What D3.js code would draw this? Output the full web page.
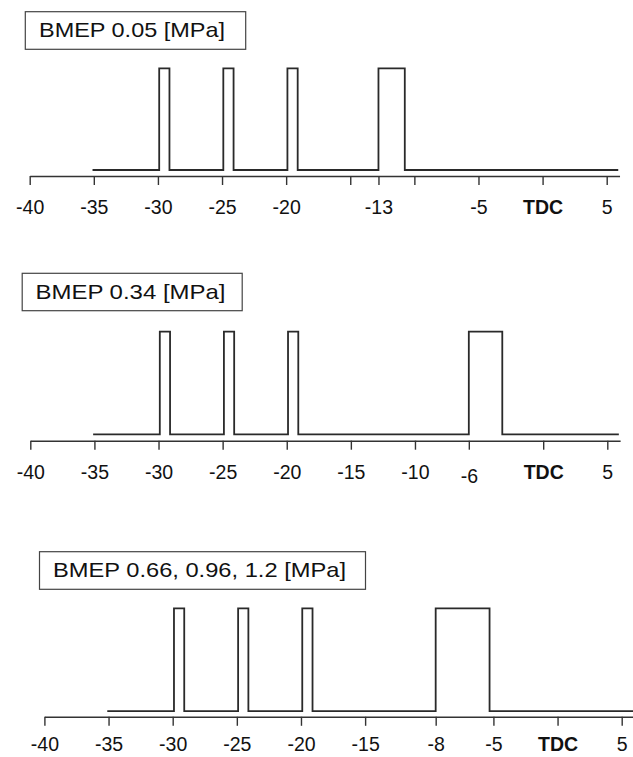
<!DOCTYPE html>
<html>
<head>
<meta charset="utf-8">
<script src="https://cdn.jsdelivr.net/npm/d3@7"></script>
<style>
  html, body { margin: 0; padding: 0; background: #fff; }
  svg { display: block; }
  .title { font-family: "Liberation Sans", Arial, sans-serif; font-size: 21px; fill: #111; }
  .axis text { font-family: "Liberation Sans", Arial, sans-serif; font-size: 21px; fill: #111; }
  .axis text.tdc { font-weight: bold; }
</style>
</head>
<body>
<script>
// Injection timing (crank angle, degrees relative to TDC) for three load ranges.

const panelTitles = ["BMEP 0.05 [MPa]", "BMEP 0.34 [MPa]", "BMEP 0.66, 0.96, 1.2 [MPa]"];

// Injection pulse opening / closing angles
const pulseStarts1 = [-29.9, -24.9, -19.9, -13];
const pulseEnds1   = [-29.1, -24.1, -19.1, -10.8];
const pulseStarts2 = [-29.9, -24.9, -19.9, -6];
const pulseEnds2   = [-29.1, -24.1, -19.1, -3.3];
const pulseStarts3 = [-29.9, -24.9, -19.9, -8];
const pulseEnds3   = [-29.1, -24.1, -19.1, -5.2];

// Extent of each injection trace
const traceFrom = -35.1;
const traceTo = 5.9;

// Tick values and their labels
const tickValues1 = [-40, -35, -30, -25, -20, -15, -13, -10, -5, 0, 5];
const tickLabels1 = ["-40", "-35", "-30", "-25", "-20", "", "-13", "", "-5", "TDC", "5"];
const tickValues2 = [-40, -35, -30, -25, -20, -15, -10, -6, 0, 5];
const tickLabels2 = ["-40", "-35", "-30", "-25", "-20", "-15", "-10", "-6", "TDC", "5"];
const tickValues3 = [-40, -35, -30, -25, -20, -15, -8, -5, 0, 5];
const tickLabels3 = ["-40", "-35", "-30", "-25", "-20", "-15", "-8", "-5", "TDC", "5"];

// The printed angle axes are not evenly spaced around the main-injection tick:
// each labelled angle (stops) sits at a place on the even 5-degree grid (slots).
const axisStops1 = [-40, -15, -13, -10, 6];
const axisSlots1 = [-40, -15, -12.8, -10, 6];
const axisStops2 = [-40, -10, -6, 0, 6];
const axisSlots2 = [-40, -10, -5.8, 0, 6];
const axisStops3 = [-40, -15, -8, -5, 6];
const axisSlots3 = [-40, -15, -9.5, -5, 6];

const panels = [
  { title: panelTitles[0], starts: pulseStarts1, ends: pulseEnds1, ticks: tickValues1, labels: tickLabels1, stops: axisStops1, slots: axisSlots1,
    layout: { x0: 29.7, x1: 606.7, box: [25.3, 11.7, 220.4, 37.6], textX: 39, textY: 37, textW: 186, hi: 68.3, lo: 170, axisY: 176, pad: 14, drop: {} } },
  { title: panelTitles[1], starts: pulseStarts2, ends: pulseEnds2, ticks: tickValues2, labels: tickLabels2, stops: axisStops2, slots: axisSlots2,
    layout: { x0: 30.3, x1: 607.3, box: [22.2, 273.3, 220, 37.4], textX: 35.5, textY: 298.8, textW: 190, hi: 331.7, lo: 434.3, axisY: 440.7, pad: 14, drop: { "-6": 4 } } },
  { title: panelTitles[2], starts: pulseStarts3, ends: pulseEnds3, ticks: tickValues3, labels: tickLabels3, stops: axisStops3, slots: axisSlots3,
    layout: { x0: 44.4, x1: 621.7, box: [39.5, 551.7, 326, 37.6], textX: 53, textY: 577.2, textW: 293, hi: 608.3, lo: 711.2, axisY: 716.8, pad: 10.5, drop: {} } }
];

const svg = d3.select("body").append("svg")
  .attr("width", 633).attr("height", 757);

svg.append("rect").attr("width", 633).attr("height", 757).attr("fill", "#fff");

const line = d3.line();

panels.forEach(p => {
  const L = p.layout;
  const grid = d3.scaleLinear().domain([-40, 5]).range([L.x0, L.x1]);
  const x = d3.scaleLinear().domain(p.stops).range(p.slots.map(grid));
  const y = d3.scaleLinear().domain([0, 1]).range([L.lo, L.hi]);

  const g = svg.append("g");

  // Title box
  g.append("rect")
    .attr("x", L.box[0]).attr("y", L.box[1])
    .attr("width", L.box[2]).attr("height", L.box[3])
    .attr("fill", "#fff").attr("stroke", "#444").attr("stroke-width", 1.2);
  g.append("text").attr("class", "title")
    .attr("x", L.textX).attr("y", L.textY)
    .attr("textLength", L.textW)
    .attr("lengthAdjust", "spacingAndGlyphs")
    .text(p.title);

  // Injection trace: low between pulses, high during each pulse
  const pts = [[traceFrom, 0]];
  p.starts.forEach((s, i) => {
    pts.push([s, 0], [s, 1], [p.ends[i], 1], [p.ends[i], 0]);
  });
  pts.push([traceTo, 0]);

  g.append("path")
    .attr("d", line(pts.map(d => [x(d[0]), y(d[1])])))
    .attr("fill", "none")
    .attr("stroke", "#2a2a2a")
    .attr("stroke-width", 1.8)
    .attr("stroke-linejoin", "miter");

  // Crank-angle axis
  const axis = d3.axisBottom(x)
    .tickValues(p.ticks)
    .tickFormat((d, i) => p.labels[i])
    .tickSize(9)
    .tickSizeOuter(0)
    .tickPadding(L.pad);

  const ag = g.append("g").attr("class", "axis")
    .attr("transform", `translate(0,${L.axisY})`)
    .call(axis);
  ag.attr("font-family", null).attr("font-size", null);
  ag.select(".domain").attr("stroke", "#333").attr("stroke-width", 1.4);
  ag.selectAll(".tick line").attr("stroke", "#333").attr("stroke-width", 1.4);
  ag.selectAll(".tick text")
    .classed("tdc", d => d === 0)
    .attr("fill", "#111")
    .attr("transform", function () {
      const t = d3.select(this).text();
      return `translate(0,${L.drop[t] || 0}) scale(0.93,1)`;
    });
});
</script>
</body>
</html>
